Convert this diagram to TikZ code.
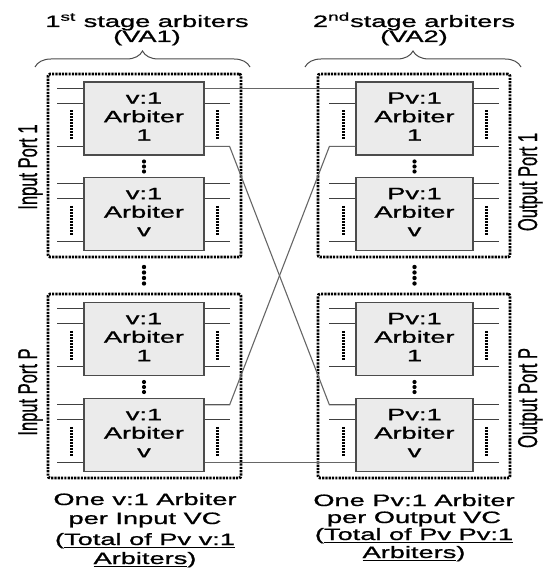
\documentclass[tikz,border=0pt]{standalone}
\usepackage{fontspec}
\setmainfont{Liberation Sans}[FakeBold=0.8]
\usepackage{graphicx}
\usetikzlibrary{decorations.pathreplacing,calc}
\newcommand{\wt}[1]{\scalebox{1.65}[1]{#1}}
\newcommand{\tl}[1]{\scalebox{1}[1.65]{#1}}
\newcommand{\ulin}[1]{\setbox0\hbox{#1}\rlap{\rule[-2.6pt]{\wd0}{1pt}}\box0}
\newcommand{\arbstubs}[1]{%
  \foreach \dy in {7,22,65} {
    \draw[stub] ($(#1.north west)+(-26,\dy)$) -- ($(#1.north west)+(0,\dy)$);
    \draw[stub] ($(#1.north east)+(0,\dy)$) -- ($(#1.north east)+(25,\dy)$);
  }
  \draw[vdotline] ($(#1.north west)+(-12,29)$) -- ($(#1.north west)+(-12,58)$);
  \draw[vdotline] ($(#1.north east)+(13,29)$) -- ($(#1.north east)+(13,58)$);
}
\begin{document}
\begin{tikzpicture}[x=1pt,y=-1pt,
  arb/.style={draw=black!70, fill=black!8, line width=1.2pt, minimum width=120pt,
    minimum height=73pt, inner sep=0pt, font=\fontsize{16.5}{18.5}\selectfont},
  grp/.style={draw=black, line width=2.8pt, dash pattern=on 2.2pt off 1.1pt, rounded corners=2pt,
    inner sep=0pt},
  stub/.style={draw=black!75, line width=1pt},
  vdotline/.style={draw=black, line width=3pt, dash pattern=on 1.8pt off 1.2pt},
  link/.style={draw=black!60, line width=1.1pt},
  txt/.style={font=\fontsize{16.5}{18.5}\selectfont, inner sep=0pt, anchor=base},
  lbl/.style={font=\fontsize{16.5}{18.5}\selectfont, inner sep=0pt, rotate=90, anchor=base},
  brc/.style={draw=black!70, line width=1pt, decorate, decoration={brace, amplitude=16pt}},
  dot/.style={fill=black}
]
\useasboundingbox (0,0) rectangle (543,569);

% titles
\node[txt] (t1a) at (147,27) {\wt{1\textsuperscript{st} stage arbiters}};
\node[txt] (t1b) at (147,42) {\wt{(VA1)}};
\node[txt] (t2a) at (414,27) {\wt{2\textsuperscript{nd}stage arbiters}};
\node[txt] (t2b) at (414,42) {\wt{(VA2)}};

% braces
\coordinate (b1s) at (35,67);
\coordinate (b1e) at (250,67);
\coordinate (b2s) at (305,67);
\coordinate (b2e) at (521,67);
\draw[brc] (b1s) -- (b1e);
\draw[brc] (b2s) -- (b2e);

% group boxes
\node[grp, minimum width=193pt, minimum height=183pt] (GL1) at (144.5,165.5) {};
\node[grp, minimum width=193pt, minimum height=184pt] (GLP) at (144.5,386) {};
\node[grp, minimum width=192pt, minimum height=183pt] (GR1) at (414,165.5) {};
\node[grp, minimum width=192pt, minimum height=184pt] (GRP) at (414,386) {};

% port labels
\node[lbl] (ip1) at (37,167) {\tl{Input Port 1}};
\node[lbl] (ipP) at (37,392) {\tl{Input Port P}};
\node[lbl] (op1) at (537,182) {\tl{Output Port 1}};
\node[lbl] (opP) at (537,398) {\tl{Output Port P}};

% arbiters
\node[arb] (L11) at (144,118.5) {\wt{\begin{tabular}{@{}c@{}}v:1\\Arbiter\\1\end{tabular}}};
\node[arb] (L1v) at (144,214) {\wt{\begin{tabular}{@{}c@{}}v:1\\Arbiter\\v\end{tabular}}};
\node[arb] (LP1) at (144,339) {\wt{\begin{tabular}{@{}c@{}}v:1\\Arbiter\\1\end{tabular}}};
\node[arb] (LPv) at (144,435) {\wt{\begin{tabular}{@{}c@{}}v:1\\Arbiter\\v\end{tabular}}};
\node[arb, minimum width=117pt] (R11) at (414.5,118.5) {\wt{\begin{tabular}{@{}c@{}}Pv:1\\Arbiter\\1\end{tabular}}};
\node[arb, minimum width=117pt] (R1v) at (414.5,214) {\wt{\begin{tabular}{@{}c@{}}Pv:1\\Arbiter\\v\end{tabular}}};
\node[arb, minimum width=117pt] (RP1) at (414.5,339) {\wt{\begin{tabular}{@{}c@{}}Pv:1\\Arbiter\\1\end{tabular}}};
\node[arb, minimum width=117pt] (RPv) at (414.5,435) {\wt{\begin{tabular}{@{}c@{}}Pv:1\\Arbiter\\v\end{tabular}}};

\arbstubs{L11}\arbstubs{L1v}\arbstubs{LP1}\arbstubs{LPv}
\arbstubs{R11}\arbstubs{R1v}\arbstubs{RP1}\arbstubs{RPv}

% links between stages
\draw[link] ($(L11.north east)+(0,7)$) -- ($(R11.north west)+(0,7)$);
\draw[link] ($(L11.north east)+(0,65)$) -- ($(L11.north east)+(25,65)$)
  -- ($(RPv.north west)+(-26,7)$) -- ($(RPv.north west)+(0,7)$);
\draw[link] ($(LPv.north east)+(0,7)$) -- ($(LPv.north east)+(25,7)$)
  -- ($(R11.north west)+(-26,65)$) -- ($(R11.north west)+(0,65)$);
\draw[link] ($(LPv.north east)+(0,65)$) -- ($(RPv.north west)+(0,65)$);

% vertical dots
\foreach \xx in {144,414.5} {
  \foreach \yy in {161.5,166.5,171.5,382,387,392} { \fill[dot] (\xx,\yy) circle (2.1pt); }
  \foreach \yy in {267,272.5,278,283.5} { \fill[dot] (\xx,\yy) circle (2.2pt); }
}

% bottom texts
\node[txt] (bl1) at (145,505) {\wt{One v:1 Arbiter}};
\node[txt] (bl2) at (145,524) {\wt{per Input VC}};
\node[txt] (bl3) at (145,545) {\wt{(\ulin{Total of Pv v:1}}};
\node[txt] (bl4) at (145,564) {\wt{\ulin{Arbiters})}};
\node[txt] (br1) at (414,506) {\wt{One Pv:1 Arbiter}};
\node[txt] (br2) at (414,523) {\wt{per Output VC}};
\node[txt] (br3) at (414,540) {\wt{(\ulin{Total of Pv Pv:1}}};
\node[txt] (br4) at (414,558) {\wt{\ulin{Arbiters})}};
\end{tikzpicture}
\end{document}
